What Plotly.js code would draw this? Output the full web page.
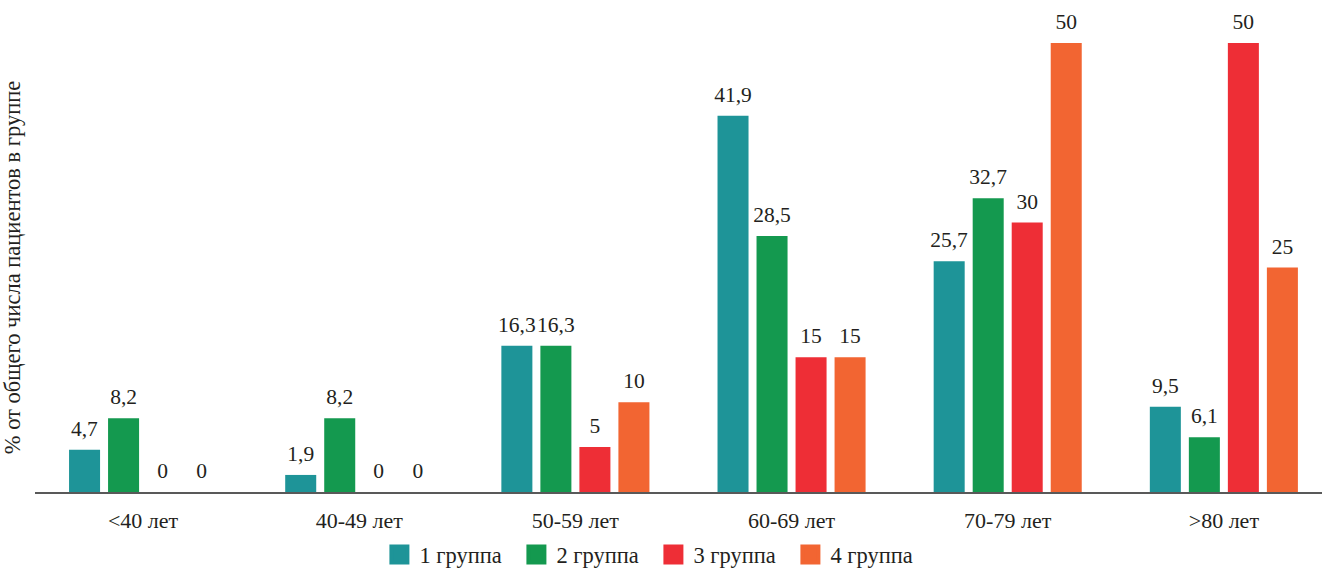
<!DOCTYPE html>
<html>
<head>
<meta charset="utf-8">
<script src="https://cdn.plot.ly/plotly-3.0.1.min.js"></script>
<style>
html,body{margin:0;padding:0;background:#fff;}
#chart{width:1322px;height:569px;}
</style>
</head>
<body>
<div id="chart"></div>
<script>
// Age groups and share of patients in each group, %
const categories = ['<40 лет', '40-49 лет', '50-59 лет', '60-69 лет', '70-79 лет', '>80 лет'];
const seriesNames = ['1 группа', '2 группа', '3 группа', '4 группа'];
const group1 = [4.7, 1.9, 16.3, 41.9, 25.7, 9.5];
const group2 = [8.2, 8.2, 16.3, 28.5, 32.7, 6.1];
const group3 = [0, 0, 5, 15, 30, 50];
const group4 = [0, 0, 10, 15, 50, 25];
const colors = ['#1e9498', '#14994f', '#ee2e36', '#f26532'];

const seriesValues = [group1, group2, group3, group4];
const serif = 'Liberation Serif';
const ink = '#231f20';
const fmt = v => String(v).replace('.', ',');

const traces = seriesValues.map((vals, i) => ({
  type: 'bar',
  name: seriesNames[i],
  x: categories,
  y: vals,
  text: vals.map(fmt),
  textposition: 'outside',
  texttemplate: '%{text}',
  constraintext: 'none',
  cliponaxis: false,
  textfont: {family: serif, size: 21.5, color: ink},
  marker: {color: colors[i]},
  showlegend: false,
  hoverinfo: 'skip'
}));

// legend entries with larger square swatches
seriesNames.forEach((name, i) => {
  traces.push({
    type: 'scatter',
    mode: 'markers',
    name: name,
    x: [null],
    y: [null],
    marker: {symbol: 'square', size: 16, color: colors[i], line: {color: colors[i], width: 4}},
    showlegend: true
  });
});

const layout = {
  width: 1322,
  height: 569,
  margin: {l: 35, r: 0, t: 43, b: 77},
  paper_bgcolor: '#ffffff',
  plot_bgcolor: '#ffffff',
  barmode: 'group',
  bargap: 0.278,
  bargroupgap: 0.205,
  font: {family: serif, size: 22, color: ink},
  xaxis: {
    type: 'category',
    range: [-0.5, 5.454],
    showline: true,
    linecolor: '#595959',
    linewidth: 1.5,
    ticks: '',
    ticklabelstandoff: 8,
    tickfont: {family: serif, size: 22, color: ink},
    showgrid: false,
    zeroline: false
  },
  yaxis: {
    range: [0, 50],
    showticklabels: false,
    showline: false,
    showgrid: false,
    zeroline: false,
    ticks: '',
    title: {text: '% от общего числа пациентов в группе', standoff: 8,
            font: {family: serif, size: 22.5, color: ink}}
  },
  showlegend: true,
  legend: {
    orientation: 'h',
    xref: 'container',
    yref: 'container',
    x: 0.287,
    xanchor: 'left',
    y: 0.025,
    yanchor: 'middle',
    entrywidth: 92,
    itemwidth: 30,
    font: {family: serif, size: 22.5, color: ink},
    bgcolor: 'rgba(0,0,0,0)'
  }
};

Plotly.newPlot('chart', traces, layout, {displayModeBar: false, staticPlot: true}).then(gd => {
  // lift the value labels a little further above their bars
  gd.querySelectorAll('text.bartext').forEach(t => {
    const y = parseFloat(t.getAttribute('y') || '0');
    t.setAttribute('y', y - 6);
  });
});
</script>
</body>
</html>
